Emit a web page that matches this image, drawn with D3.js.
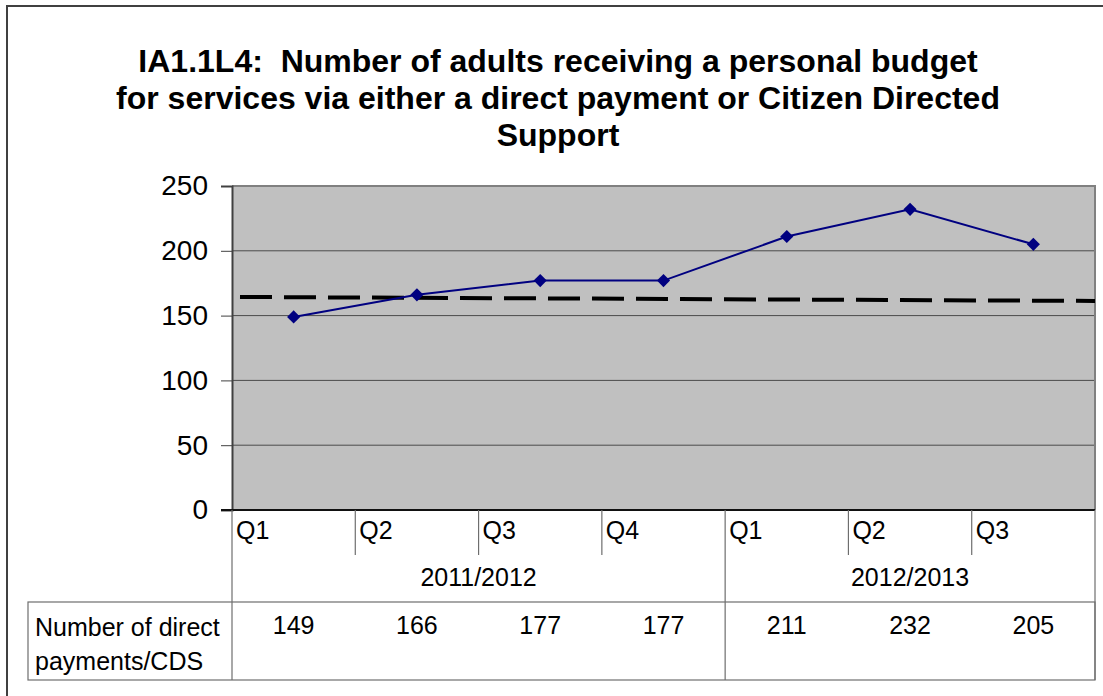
<script src='https://d3js.org/d3.v7.min.js'></script>
<style>
  body { margin: 0; background: #fff; }
  svg { display: block; font-family: Arial, "Liberation Sans", sans-serif; }
  .title { white-space: pre; }
  .grid { stroke: #4a4a4a; stroke-width: 1; }
  .table-line { stroke: #6e6e6e; stroke-width: 1.2; fill: none; }
  .series { fill: none; stroke: #000080; stroke-width: 2; }
  .trend { fill: none; stroke: #000; stroke-width: 4; stroke-dasharray: 32,12; stroke-dashoffset: 36; }
</style>
<svg id="chart" width="1103" height="696"></svg>
<script>
  const titleLines = ["IA1.1L4:  Number of adults receiving a personal budget",
    "for services via either a direct payment or Citizen Directed", "Support"]
  const quarters = ["Q1", "Q2", "Q3", "Q4", "Q1", "Q2", "Q3"]
  const yearLabels = ["2011/2012", "2012/2013"]
  const yearSpans = [4, 3]
  const values = [149, 166, 177, 177, 211, 232, 205]
  const dashedEnds = [164.4, 161.3]
  const yTicks = [0, 50, 100, 150, 200, 250]
  const rowLabel = ["Number of direct", "payments/CDS"]

  var svg = d3.select("#chart")
  const plot = {left: 232, right: 1095, top: 186, bottom: 510}
  const table = {left: 28, top: 602, bottom: 680, yearMid: 555}

  const x = d3.scaleBand().domain(d3.range(quarters.length)).range([plot.left, plot.right])
  const y = d3.scaleLinear().domain([0, 250]).range([plot.bottom, plot.top])
  const xEdge = d3.scaleLinear().domain([0, dashedEnds.length - 1]).range([plot.left, plot.right])

  // outer frame
  svg.append("rect").attr("x", 7).attr("y", 6).attr("width", 1120).attr("height", 720)
    .attr("fill", "#fff").attr("stroke", "#404040").attr("stroke-width", 2)

  svg.append("g").selectAll("text").data(titleLines).enter().append("text")
    .attr("class", "title")
    .attr("x", 558).attr("y", (d, i) => 72 + i * 37)
    .attr("text-anchor", "middle").attr("font-size", 32).attr("font-weight", "bold")
    .text(d => d)

  svg.append("rect").attr("x", plot.left).attr("y", plot.top)
    .attr("width", plot.right - plot.left).attr("height", plot.bottom - plot.top).attr("fill", "#c0c0c0")

  svg.append("g").selectAll("line").data(yTicks.slice(1, -1)).enter().append("line")
    .attr("class", "grid").attr("x1", plot.left).attr("x2", plot.right)
    .attr("y1", d => y(d)).attr("y2", d => y(d))

  // plot frame top/right
  svg.append("path").attr("d", `M${plot.left},${plot.top}H${plot.right}V${plot.bottom}`)
    .attr("fill", "none").attr("stroke", "#808080").attr("stroke-width", 2)

  var yAxis = svg.append("g").attr("transform", "translate(" + plot.left + ",0)")
    .call(d3.axisLeft(y).tickValues(yTicks).tickSize(11).tickPadding(13))
  yAxis.select(".domain").attr("stroke", "#404040").attr("stroke-width", 2)
  yAxis.selectAll(".tick line").attr("stroke", "#404040")
  yAxis.selectAll("text").attr("font-size", 28).attr("font-family", "Arial, 'Liberation Sans', sans-serif").attr("fill", "#000")

  svg.append("line").attr("x1", plot.left - 11).attr("x2", plot.right)
    .attr("y1", y(0)).attr("y2", y(0)).attr("stroke", "#111").attr("stroke-width", 2)

  // trend / reference line
  svg.append("path").datum(dashedEnds).attr("class", "trend")
    .attr("d", d3.line().x((d, i) => xEdge(i)).y(d => y(d)))

  svg.append("path").datum(values).attr("class", "series")
    .attr("d", d3.line().x((d, i) => x(i) + x.bandwidth() / 2).y(d => y(d)))

  svg.append("g").selectAll("path").data(values).enter().append("path")
    .attr("d", d3.symbol().type(d3.symbolDiamond2).size(110))
    .attr("transform", (d, i) => "translate(" + (x(i) + x.bandwidth() / 2) + "," + y(d) + ")")
    .attr("fill", "#000080")

  // category axis: quarter dividers, year dividers
  var yearStart = [0]
  yearSpans.forEach((s, i) => yearStart.push(yearStart[i] + s))
  const edges = d3.range(quarters.length + 1)
  const xAt = i => i < quarters.length ? x(i) : plot.right
  var cat = svg.append("g")
  cat.selectAll("line").data(edges).enter().append("line")
    .attr("class", "table-line")
    .attr("x1", d => xAt(d)).attr("x2", d => xAt(d))
    .attr("y1", plot.bottom)
    .attr("y2", d => yearStart.includes(d) ? table.bottom : table.yearMid)

  cat.selectAll("text.q").data(quarters).enter().append("text")
    .attr("x", (d, i) => x(i) + 4).attr("y", 539)
    .attr("font-size", 25).text(d => d)

  cat.selectAll("text.yr").data(yearLabels).enter().append("text")
    .attr("x", (d, i) => (xAt(yearStart[i]) + xAt(yearStart[i + 1])) / 2).attr("y", 586)
    .attr("text-anchor", "middle").attr("font-size", 25).text(d => d)

  // data table
  cat.append("rect").attr("class", "table-line").attr("x", table.left).attr("y", table.top)
    .attr("width", plot.right - table.left).attr("height", table.bottom - table.top)

  cat.selectAll("text.v").data(values).enter().append("text")
    .attr("x", (d, i) => x(i) + x.bandwidth() / 2).attr("y", 634)
    .attr("text-anchor", "middle").attr("font-size", 25).text(d => d)

  cat.selectAll("text.lbl").data(rowLabel).enter().append("text")
    .attr("x", table.left + 7).attr("y", (d, i) => 636 + i * 34)
    .attr("font-size", 25).text(d => d)
</script>
